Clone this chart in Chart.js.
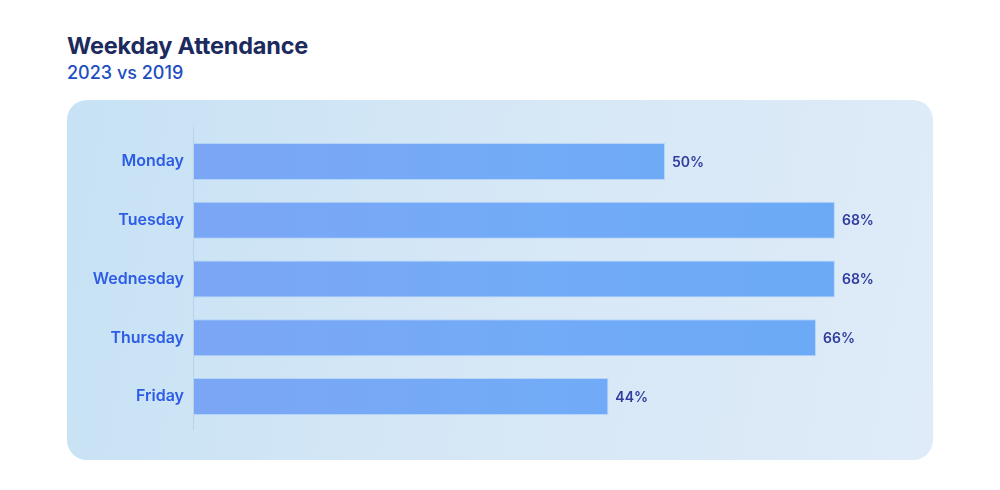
<!DOCTYPE html>
<html lang="en">
<head>
    <meta charset="UTF-8">
    <title>Weekday Attendance</title>
    <script src="https://cdn.jsdelivr.net/npm/chart.js"></script>
    <style>
        html, body { margin: 0; padding: 0; background: #ffffff; }
        #wrap { position: relative; width: 1000px; height: 490px; overflow: hidden; font-family: Inter, "Noto Sans", sans-serif; }
        #panel {
            position: absolute; left: 67px; top: 100px; width: 866px; height: 360px;
            border-radius: 20px;
            background: linear-gradient(100deg, #c6e2f4 0%, #d5e7f6 45%, #dfebf8 100%);
        }
        #title { position: absolute; left: 67px; top: 31px; font-size: 23.5px; font-weight: 700; color: #1c2a5e; letter-spacing: -0.2px; }
        #subtitle { position: absolute; left: 67px; top: 62px; font-size: 18px; font-weight: 500; color: #1d4ec0; }
        #chart-box { position: absolute; left: 0; top: 0; width: 1000px; height: 490px; }
    </style>
</head>
<body>
<div id="wrap">
    <div id="panel"></div>
    <div id="title">Weekday Attendance</div>
    <div id="subtitle">2023 vs 2019</div>
    <div id="chart-box"><canvas id="attendance-chart"></canvas></div>
</div>
<script>
    // data
    const days = ['Monday', 'Tuesday', 'Wednesday', 'Thursday', 'Friday'];
    const attendance = [50, 68, 68, 66, 44];

    // labels at the end of each bar plus the left axis line
    const barLabels = {
        id: 'barLabels',
        afterDatasetsDraw(chart) {
            const ctx = chart.ctx;
            const area = chart.chartArea;
            ctx.save();
            ctx.strokeStyle = '#b8d2ec';
            ctx.lineWidth = 1;
            ctx.beginPath();
            ctx.moveTo(area.left + 0.5, area.top - 5);
            ctx.lineTo(area.left + 0.5, area.bottom + 4);
            ctx.stroke();

            ctx.font = '600 14px Inter, "Noto Sans", sans-serif';
            ctx.fillStyle = '#2f3b9e';
            ctx.textAlign = 'left';
            ctx.textBaseline = 'middle';
            chart.getDatasetMeta(0).data.forEach((bar, i) => {
                ctx.fillText(attendance[i] + '%', bar.x + 7, bar.y + 1);
            });
            ctx.restore();
        }
    };

    const ctx = document.getElementById('attendance-chart').getContext('2d');
    new Chart(ctx, {
        type: 'bar',
        data: {
            labels: days,
            datasets: [{
                data: attendance,
                backgroundColor: function (c) {
                    const area = c.chart.chartArea;
                    if (!area) return '#72a8f6';
                    const g = c.chart.ctx.createLinearGradient(area.left, 0, area.right, 0);
                    g.addColorStop(0, '#7ba6f5');
                    g.addColorStop(0.5, '#72abf7');
                    g.addColorStop(1, '#6aa9f6');
                    return g;
                },
                borderColor: 'rgba(160, 200, 250, 0.6)',
                borderWidth: 1,
                borderSkipped: 'left',
                barPercentage: 0.63,
                categoryPercentage: 1.0
            }]
        },
        options: {
            indexAxis: 'y',
            responsive: true,
            maintainAspectRatio: false,
            animation: false,
            layout: {
                padding: { left: 0, right: 99, top: 132, bottom: 64 }
            },
            plugins: {
                legend: { display: false },
                tooltip: { enabled: false }
            },
            scales: {
                x: {
                    display: false,
                    min: 0,
                    max: 75
                },
                y: {
                    grid: { display: false, drawTicks: false },
                    border: { display: false },
                    afterFit: function (scale) { scale.width = 193; },
                    ticks: {
                        padding: 9,
                        color: '#2d5ce6',
                        font: { family: 'Inter, "Noto Sans", sans-serif', size: 16, weight: '600' }
                    }
                }
            }
        },
        plugins: [barLabels]
    });
</script>
</body>
</html>
